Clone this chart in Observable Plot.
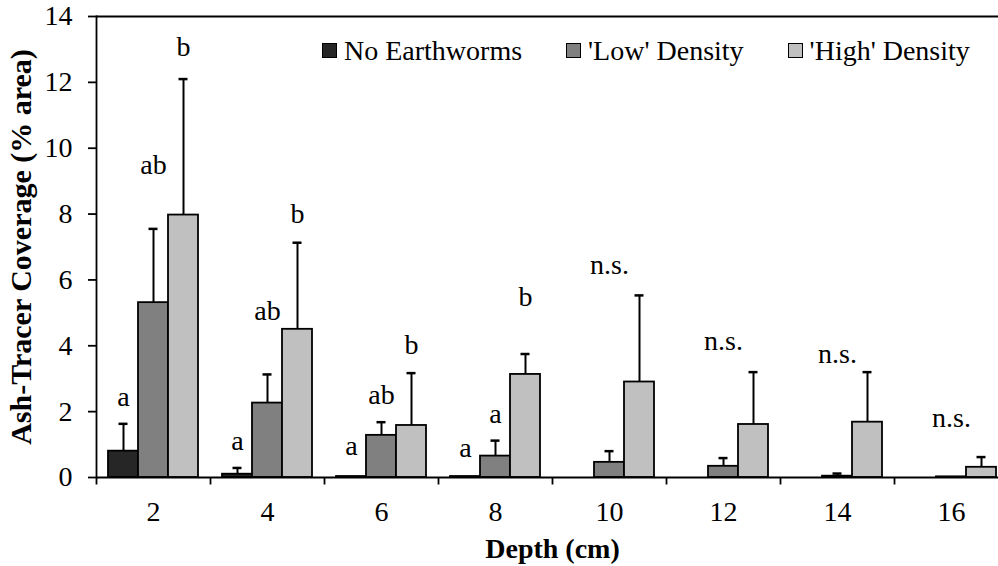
<!DOCTYPE html>
<html><head><meta charset="utf-8">
<script src="https://cdn.jsdelivr.net/npm/d3@7"></script>
<script src="https://cdn.jsdelivr.net/npm/@observablehq/plot@0.6"></script>
<style>
body{margin:0;background:#fff;}
#chart{position:relative;width:998px;height:566px;overflow:hidden;font-family:"Liberation Serif","Times New Roman",Times,serif;background:#fff;}
#legend{position:absolute;left:322px;top:36.5px;display:flex;font-size:28px;line-height:28px;color:#000;white-space:nowrap;}
.item{display:flex;align-items:center;margin-right:44px;}
.sw{width:15px;height:15px;border:1.6px solid #000;box-sizing:border-box;margin-right:7px;}
g[aria-label="fx-axis label"] text{font-weight:bold;font-size:28px;}
g[aria-label="y-axis label"] text{font-weight:bold;font-size:30px;}
</style></head>
<body>
<div id="chart"><div id="legend"></div></div>
<script>
const depths = [2, 4, 6, 8, 10, 12, 14, 16];
const treatments = ["No Earthworms", "'Low' Density", "'High' Density"];
const colors = ["#262626", "#808080", "#c0c0c0"];

const noMeans   = [0.80, 0.10, 0.03, 0.03, 0, 0, 0, 0];
const noErr     = [0.83, 0.19, null, null, null, null, null, null];
const lowMeans  = [5.31, 2.26, 1.28, 0.65, 0.46, 0.34, 0.04, 0.02];
const lowErr    = [2.24, 0.87, 0.40, 0.47, 0.34, 0.25, 0.08, null];
const highMeans = [7.97, 4.50, 1.58, 3.13, 2.90, 1.61, 1.68, 0.31];
const highErr   = [4.13, 2.63, 1.59, 0.62, 2.63, 1.59, 1.52, 0.31];

const noLabels   = ["a", "a", "a", "a", "", "", "", ""];
const lowLabels  = ["ab", "ab", "ab", "a", "n.s.", "n.s.", "n.s.", "n.s."];
const highLabels = ["b", "b", "b", "b", "", "", "", ""];
const noLabelY   = [2.43, 1.12, 0.97, 0.88, null, null, null, null];
const lowLabelY  = [9.5, 5.07, 2.49, 1.94, 6.44, 4.13, 3.74, 1.82];
const highLabelY = [13.06, 7.99, 4.01, 5.47, null, null, null, null];

const yTicks = [0, 2, 4, 6, 8, 10, 12, 14];

const means = [noMeans, lowMeans, highMeans];
const errs = [noErr, lowErr, highErr];
const labels = [noLabels, lowLabels, highLabels];
const labelYs = [noLabelY, lowLabelY, highLabelY];

const rows = [];
const labelRows = [];
depths.forEach((depth, i) => {
  treatments.forEach((treatment, j) => {
    rows.push({depth, treatment, mean: means[j][i], err: errs[j][i]});
    if (labels[j][i]) labelRows.push({depth, treatment, text: labels[j][i], y: labelYs[j][i]});
  });
});
const errRows = rows.filter(d => d.err != null);

const tickSymbol = {draw(ctx) { ctx.moveTo(0, 0); ctx.lineTo(0, 7); }};

const plot = Plot.plot({
  width: 998,
  height: 566,
  marginTop: 16,
  marginBottom: 89,
  marginLeft: 96,
  marginRight: 0,
  style: {fontFamily: "'Liberation Serif', 'Times New Roman', Times, serif", fontSize: "28px", color: "#000", background: "#fff", overflow: "hidden"},
  fx: {domain: depths, range: [96, 1008], padding: 0},
  x: {domain: treatments, paddingInner: 0, paddingOuter: 0.34, axis: null},
  y: {domain: [0, 14]},
  color: {domain: treatments, range: colors},
  marks: [
    Plot.barY(rows, {fx: "depth", x: "treatment", y: "mean", fill: "treatment", stroke: "#000", strokeWidth: 1.8}),
    Plot.ruleX(errRows, {fx: "depth", x: "treatment", y1: "mean", y2: d => d.mean + d.err, stroke: "#000", strokeWidth: 2}),
    Plot.tickY(errRows, {fx: "depth", x: "treatment", y: d => d.mean + d.err, stroke: "#000", strokeWidth: 2.5, insetLeft: 10.5, insetRight: 10.5}),
    Plot.text(labelRows, {fx: "depth", x: "treatment", y: "y", text: "text", fontSize: 28, lineAnchor: "middle", fill: "#000"}),
    Plot.ruleY([0, 14], {stroke: "#000", strokeWidth: 1.8}),
    Plot.frame({anchor: "left", facetAnchor: "left", stroke: "#000", strokeWidth: 1.8}),
    Plot.dot([0], {frameAnchor: "bottom-left", symbol: tickSymbol, stroke: "#000", strokeWidth: 1.8, fill: "none"}),
    Plot.axisY({ticks: yTicks, tickSize: 8, tickPadding: 16, strokeWidth: 1.8, fontSize: 28, label: "Ash-Tracer Coverage (% area)", labelAnchor: "center", labelArrow: "none", labelOffset: 87}),
    Plot.axisFx({anchor: "bottom", tickSize: 0, tickPadding: 24, fontSize: 28, label: "Depth (cm)", labelAnchor: "center", labelArrow: "none", labelOffset: 80})
  ]
});
const chart = document.getElementById("chart");
chart.insertBefore(plot, chart.firstChild);

const legend = document.getElementById("legend");
treatments.forEach((t, j) => {
  const item = document.createElement("div");
  item.className = "item";
  const sw = document.createElement("span");
  sw.className = "sw";
  sw.style.background = colors[j];
  const lab = document.createElement("span");
  lab.textContent = t;
  item.appendChild(sw);
  item.appendChild(lab);
  legend.appendChild(item);
});
</script>
</body></html>
